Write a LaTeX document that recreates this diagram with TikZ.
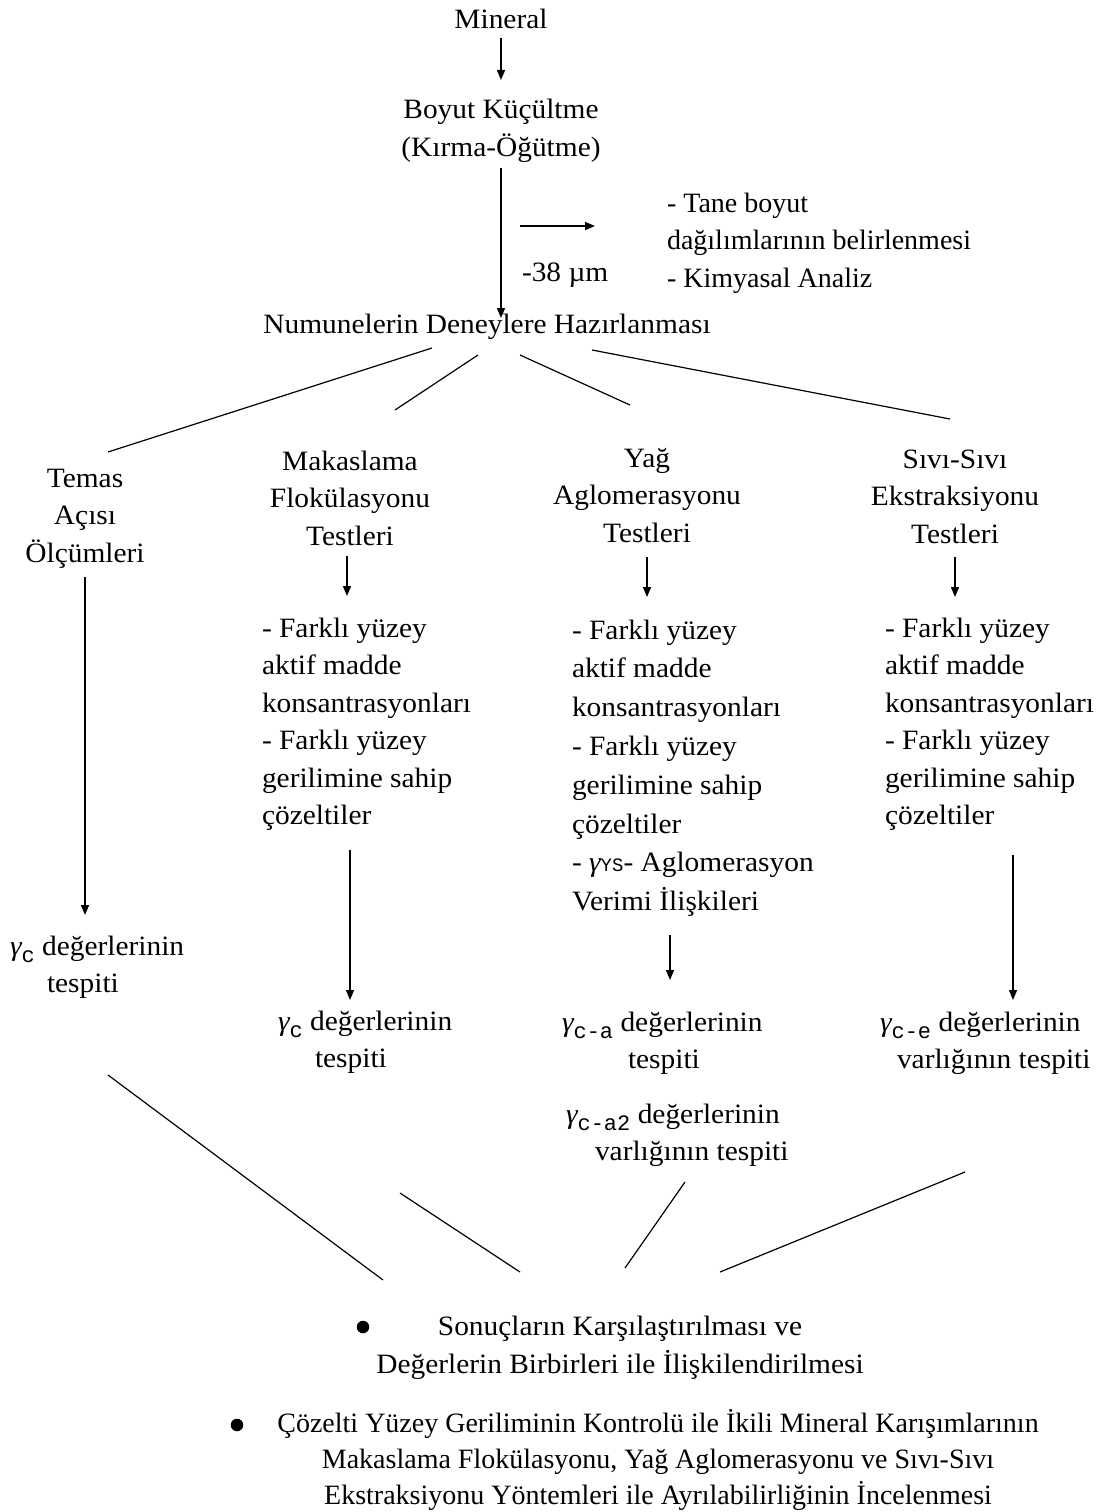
\documentclass[tikz,border=0pt]{standalone}
\usepackage{fontspec}
\setmainfont[FakeStretch=1.05]{Liberation Serif}
\newfontfamily\plainfont{Liberation Serif}
\newfontfamily\monofont{Liberation Mono}
\usetikzlibrary{arrows.meta}
\newcommand\Gam[1]{{\itshape γ}\raisebox{-7pt}{\monofont\fontsize{22}{22}\selectfont #1}}
\newcommand\Gys{{\itshape γ}{\monofont\fontsize{19}{19}\selectfont YS}}
\newcommand\Tl{\rule{0pt}{28pt}}
\begin{document}
\begin{tikzpicture}[x=1pt,y=-1pt,
  every node/.style={inner sep=0pt, outer sep=0pt, font=\fontsize{28}{37.5}\selectfont},
  blk/.style={anchor=north, align=center},
  lst/.style={anchor=north west, align=left},
  arr/.style={line width=1.4pt, -{Triangle[length=10pt,width=8pt]}},
  ln/.style={line width=1.2pt},
  dot/.style={circle, fill=black, minimum size=12.5pt},
]
\useasboundingbox (0,0) rectangle (1103,1512);

% ---------- nodes ----------
\node[blk] (min) at (501,1) {\Tl Mineral};
\node[blk, font=\fontsize{28}{38}\selectfont] (boy) at (501,90) {\Tl Boyut Küçültme\\(Kırma-Öğütme)};
\node[anchor=base west] (m38) at (522,281) {-38 µm};
\node[lst, font=\plainfont\fontsize{28}{37.5}\selectfont] (tane) at (667,184) {\Tl - Tane boyut\\dağılımlarının belirlenmesi\\- Kimyasal Analiz};
\node[anchor=base] (num) at (487,333) {Numunelerin Deneylere Hazırlanması};

\node[blk] (tem) at (85,459) {\Tl Temas\\Açısı\\Ölçümleri};
\node[blk] (mak) at (350,442) {\Tl Makaslama\\Flokülasyonu\\Testleri};
\node[blk] (yag) at (647,439) {\Tl Yağ\\Aglomerasyonu\\Testleri};
\node[blk] (siv) at (955,440) {\Tl Sıvı-Sıvı\\Ekstraksiyonu\\Testleri};

\node[lst] (makl) at (262,609) {\Tl - Farklı yüzey\\aktif madde\\konsantrasyonları\\- Farklı yüzey\\gerilimine sahip\\çözeltiler};
\node[lst, font=\fontsize{28}{38.8}\selectfont] (yagl) at (572,611) {\Tl - Farklı yüzey\\aktif madde\\konsantrasyonları\\- Farklı yüzey\\gerilimine sahip\\çözeltiler\\- \Gys- Aglomerasyon\\Verimi İlişkileri};
\node[lst] (sivl) at (885,609) {\Tl - Farklı yüzey\\aktif madde\\konsantrasyonları\\- Farklı yüzey\\gerilimine sahip\\çözeltiler};

\node[lst] (resL) at (10,927) {\Tl\Gam{c} değerlerinin\\\hspace*{37pt}tespiti};
\node[lst] (resM) at (278,1002) {\Tl\Gam{c} değerlerinin\\\hspace*{37pt}tespiti};
\node[lst] (resY) at (562,1003) {\Tl\Gam{c-a} değerlerinin\\\hspace*{66pt}tespiti};
\node[lst] (resY2) at (566,1095) {\Tl\Gam{c-a2} değerlerinin\\\hspace*{29pt}varlığının tespiti};
\node[lst] (resS) at (880,1003) {\Tl\Gam{c-e} değerlerinin\\\hspace*{17pt}varlığının tespiti};

\node[dot] (b1) at (363,1327) {};
\node[blk, font=\fontsize{28}{38}\selectfont] (sonuc) at (620,1307) {\Tl Sonuçların Karşılaştırılması ve\\Değerlerin Birbirleri ile İlişkilendirilmesi};
\node[dot] (b2) at (237,1425) {};
\node[blk, font=\plainfont\fontsize{28}{36}\selectfont] (coz) at (658,1404) {\Tl Çözelti Yüzey Geriliminin Kontrolü ile İkili Mineral Karışımlarının\\Makaslama Flokülasyonu, Yağ Aglomerasyonu ve Sıvı-Sıvı\\Ekstraksiyonu Yöntemleri ile Ayrılabilirliğinin İncelenmesi};

% ---------- arrow end points ----------
\coordinate (a1s) at (501,38);   \coordinate (a1e) at (501,80);
\coordinate (a2s) at (501,168);  \coordinate (a2e) at (501,318);
\coordinate (a3s) at (520,226);  \coordinate (a3e) at (595,226);
\coordinate (a4s) at (85,577);   \coordinate (a4e) at (85,915);
\coordinate (a5s) at (347,556);  \coordinate (a5e) at (347,596);
\coordinate (a6s) at (647,557);  \coordinate (a6e) at (647,597);
\coordinate (a7s) at (955,557);  \coordinate (a7e) at (955,597);
\coordinate (a8s) at (350,850);  \coordinate (a8e) at (350,1000);
\coordinate (a9s) at (670,935);  \coordinate (a9e) at (670,980);
\coordinate (a10s) at (1013,855); \coordinate (a10e) at (1013,1000);

\draw[arr] (a1s) -- (a1e);
\draw[arr] (a2s) -- (a2e);
\draw[arr] (a3s) -- (a3e);
\draw[arr] (a4s) -- (a4e);
\draw[arr] (a5s) -- (a5e);
\draw[arr] (a6s) -- (a6e);
\draw[arr] (a7s) -- (a7e);
\draw[arr] (a8s) -- (a8e);
\draw[arr] (a9s) -- (a9e);
\draw[arr] (a10s) -- (a10e);

% ---------- branch lines ----------
\coordinate (l1s) at (432,348); \coordinate (l1e) at (108,452);
\coordinate (l2s) at (478,355); \coordinate (l2e) at (395,410);
\coordinate (l3s) at (520,355); \coordinate (l3e) at (630,405);
\coordinate (l4s) at (592,350); \coordinate (l4e) at (950,419);
\coordinate (l5s) at (108,1075); \coordinate (l5e) at (383,1280);
\coordinate (l6s) at (400,1193); \coordinate (l6e) at (520,1272);
\coordinate (l7s) at (685,1182); \coordinate (l7e) at (625,1268);
\coordinate (l8s) at (965,1172); \coordinate (l8e) at (720,1272);
\draw[ln] (l1s) -- (l1e);
\draw[ln] (l2s) -- (l2e);
\draw[ln] (l3s) -- (l3e);
\draw[ln] (l4s) -- (l4e);
\draw[ln] (l5s) -- (l5e);
\draw[ln] (l6s) -- (l6e);
\draw[ln] (l7s) -- (l7e);
\draw[ln] (l8s) -- (l8e);
\end{tikzpicture}
\end{document}
